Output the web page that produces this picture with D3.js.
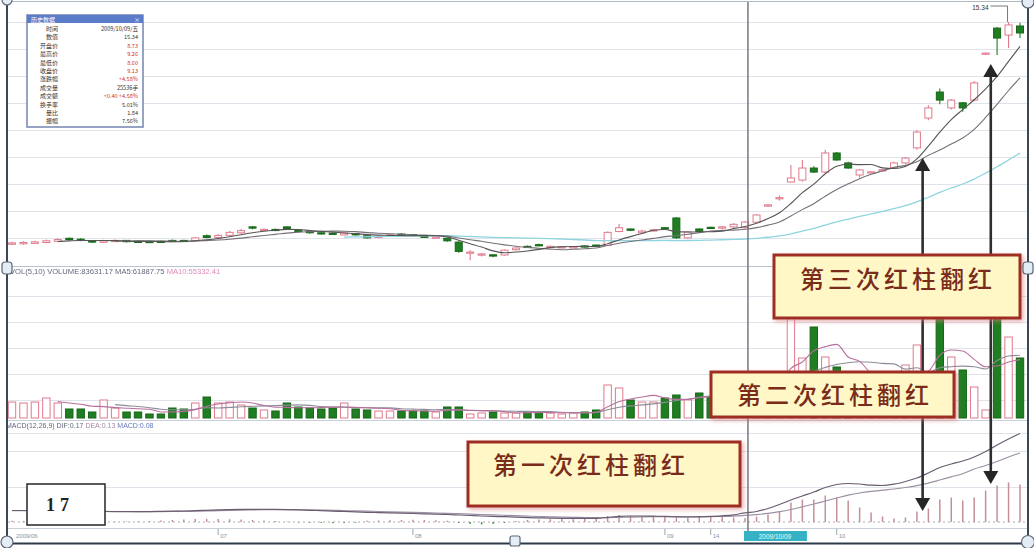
<!DOCTYPE html>
<html><head><meta charset="utf-8">
<script src="https://cdn.jsdelivr.net/npm/d3@7/dist/d3.min.js"></script>
<style>html,body{margin:0;padding:0;background:#fff;overflow:hidden}svg{display:block}</style>
</head><body>
<svg id="chart" width="1034" height="548" xmlns="http://www.w3.org/2000/svg"></svg>
<script>
// ---------------- DATA ----------------
const openP = [
 4.84,4.86,4.88,4.92,4.98,5.12,5.08,5.00,4.93,4.98,
 5.02,4.98,4.97,4.98,5.02,5.02,5.00,5.24,5.16,5.26,
 5.38,5.66,5.50,5.54,5.66,5.50,5.44,5.38,5.36,5.28,
 5.34,5.24,5.16,5.22,5.32,5.30,5.22,5.14,5.12,4.94,
 4.42,4.34,4.34,4.33,4.58,4.74,4.82,4.70,4.70,4.70,
 4.76,4.80,4.78,5.44,5.56,5.38,5.48,5.62,6.08,5.14,
 5.56,5.64,5.60,5.66,5.62,5.88,6.64,7.00,7.78,7.87,
 8.44,8.25,9.15,8.68,8.11,8.22,8.30,8.44,8.68,9.39,
 10.80,12.03,11.28,11.52,11.65,13.82,15.05,14.72,15.15];
const closeP = [
 4.90,4.92,4.95,5.00,5.06,5.06,5.02,4.94,5.00,5.02,
 4.96,4.95,4.95,4.96,4.98,5.00,5.14,5.16,5.26,5.40,
 5.48,5.60,5.54,5.50,5.58,5.44,5.38,5.34,5.32,5.38,
 5.28,5.14,5.22,5.28,5.30,5.26,5.18,5.18,5.00,4.50,
 4.47,4.38,4.28,4.56,4.66,4.70,4.78,4.74,4.72,4.72,
 4.72,4.76,5.40,5.62,5.50,5.46,5.52,5.56,5.14,5.42,
 5.44,5.60,5.66,5.78,5.89,6.22,6.70,7.04,7.97,8.44,
 8.25,9.15,8.82,8.44,8.35,8.26,8.36,8.68,8.91,10.14,
 11.28,11.65,11.65,11.28,12.46,13.87,14.58,15.20,14.82];
const highP = [
 4.96,4.98,5.00,5.06,5.12,5.16,5.12,5.04,5.05,5.06,
 5.04,5.02,5.00,5.02,5.06,5.05,5.18,5.30,5.32,5.46,
 5.56,5.70,5.58,5.58,5.68,5.54,5.46,5.40,5.38,5.42,
 5.36,5.26,5.26,5.32,5.36,5.32,5.24,5.20,5.16,4.98,
 4.56,4.42,4.36,4.60,4.70,4.78,4.86,4.78,4.76,4.75,
 4.78,4.82,5.44,5.80,5.58,5.52,5.56,5.64,6.12,5.46,
 5.58,5.66,5.70,5.84,5.94,6.26,6.74,7.14,8.58,8.82,
 8.52,9.30,9.20,8.74,8.38,8.30,8.40,8.74,8.96,10.24,
 11.40,12.20,11.70,11.56,12.55,13.90,15.10,15.34,15.30];
const lowP = [
 4.80,4.82,4.85,4.88,4.95,5.02,4.98,4.90,4.90,4.95,
 4.92,4.92,4.92,4.93,4.95,4.96,4.98,5.12,5.14,5.22,
 5.34,5.54,5.46,5.46,5.54,5.40,5.34,5.30,5.28,5.26,
 5.24,5.10,5.12,5.18,5.26,5.22,5.14,5.10,4.96,4.44,
 4.08,4.26,4.22,4.30,4.54,4.66,4.74,4.66,4.66,4.67,
 4.68,4.72,4.76,5.40,5.46,5.34,5.44,5.52,5.10,5.10,
 5.40,5.56,5.56,5.62,5.58,5.84,6.60,6.90,7.74,7.80,
 8.20,8.20,8.78,8.40,7.98,8.18,8.26,8.40,8.64,9.30,
 10.70,11.45,11.20,11.10,11.60,13.78,13.78,14.11,14.58];
const volume = [
 16,15,16,20,15,9,9,6,18,10,
 6,6,4,4,10,9,15,21,15,16,
 13,10,8,7,15,11,10,9,10,15,
 9,8,7,7,7,7,7,6,11,11,
 4,5,6,5,5,6,6,5,4,5,
 6,8,33,30,18,16,16,20,23,18,
 25,21,22,24,28,35,40,40,105,60,
 91,61,51,42,38,30,28,35,53,73,
 45,108,61,48,31,8,112,81,60];
const dif = [
 0.115,0.115,0.112,0.110,0.108,0.107,0.106,0.105,0.105,0.104,
 0.104,0.103,0.104,0.106,0.108,0.110,0.113,0.117,0.121,0.124,
 0.126,0.127,0.127,0.126,0.124,0.121,0.117,0.113,0.109,0.105,
 0.101,0.097,0.094,0.091,0.088,0.085,0.082,0.079,0.075,0.070,
 0.065,0.060,0.056,0.053,0.048,0.044,0.041,0.039,0.037,0.036,
 0.036,0.037,0.046,0.056,0.060,0.060,0.058,0.056,0.052,0.050,
 0.052,0.056,0.062,0.072,0.092,0.105,0.135,0.175,0.220,0.260,
 0.300,0.345,0.375,0.385,0.380,0.368,0.365,0.378,0.405,0.440,
 0.490,0.545,0.580,0.610,0.650,0.705,0.770,0.830,0.885];
const dea = [
 0.113,0.114,0.113,0.112,0.110,0.109,0.108,0.107,0.106,0.105,
 0.105,0.104,0.104,0.104,0.105,0.106,0.108,0.110,0.113,0.116,
 0.119,0.121,0.123,0.124,0.124,0.123,0.122,0.120,0.117,0.114,
 0.111,0.108,0.105,0.102,0.099,0.096,0.093,0.090,0.087,0.083,
 0.079,0.075,0.071,0.067,0.063,0.059,0.055,0.052,0.049,0.047,
 0.045,0.043,0.044,0.046,0.049,0.051,0.053,0.054,0.054,0.054,
 0.054,0.054,0.056,0.059,0.066,0.074,0.086,0.103,0.125,0.152,
 0.180,0.210,0.240,0.268,0.290,0.306,0.318,0.330,0.345,0.364,
 0.389,0.420,0.452,0.483,0.530,0.565,0.605,0.650,0.690];
const macdBar = [
 0.012,0.010,0.008,0.010,0.012,0.010,0.008,0.006,0.008,0.006,
 0.006,0.008,0.010,0.015,0.020,0.025,0.030,0.032,0.030,0.028,
 0.025,0.020,0.015,0.010,0.006,-0.004,-0.008,-0.010,-0.012,-0.010,
 -0.008,0.012,0.015,0.018,0.020,0.022,0.020,0.018,0.012,-0.010,
 -0.020,-0.025,-0.020,-0.010,0.010,0.020,0.025,0.028,0.030,0.028,
 0.030,0.032,0.060,0.070,0.065,0.060,0.055,0.050,0.040,0.045,
 0.050,0.055,0.050,0.045,0.040,0.055,0.075,0.105,0.195,0.225,
 0.225,0.265,0.245,0.215,0.145,0.095,0.055,0.035,0.045,0.105,
 0.135,0.225,0.245,0.215,0.245,0.315,0.365,0.395,0.375];
// unlabeled gridline values
const priceGrid = [5.13,6.41,7.69,8.96,10.24,11.51,12.79,14.06,15.34];
const volGrid = [18,44,70,96,122];
const macdGrid = [0.35,0.71,0.89];
// date axis
const dateTickIdx = [18,35,57,61,72];
const dateTickLab = ["07","08","09","14","10"];
const cursorIdx = 64.25;
const cursorDate = "2009/10/09";
// info window
const infoLabels = ["时间","数值","开盘价","最高价","最低价","收盘价","涨跌幅","成交量","成交额","换手率","量比","振幅"];
const infoValues = ["2009/10/09/五","15.34","8.73","9.26","8.60","9.13","+4.58%","25536手","+0.40 +4.58%","5.01%","1.84","7.56%"];
const infoRed = [false,false,true,true,true,true,true,false,true,false,false,false];
// legend strings
const volLegend = ["VOL(5,10) VOLUME:83631.17 MA5:61887.75 ", "MA10:55332.41"];
const macdLegend = ["MACD(12,26,9) DIF:0.17 ", "DEA:0.13 ", "MACD:0.08"];
const labelBox = "17";
const notes = ["第一次红柱翻红","第二次红柱翻红","第三次红柱翻红"];

// ---------------- DRAW ----------------
const svg = d3.select('#chart');
const defs = svg.append('defs');
const flt = defs.append('filter').attr('id','sh').attr('x','-10%').attr('y','-25%').attr('width','125%').attr('height','160%');
flt.append('feDropShadow').attr('dx',2).attr('dy',2).attr('stdDeviation',2).attr('flood-color','#d97a7a').attr('flood-opacity',0.6);

const N = closeP.length, idx = d3.range(N);
const x = d3.scaleLinear().domain([0,N-1]).range([12,1020]);
const yP = d3.scaleLinear().domain([4,16]).range([262,8]);
const yV = d3.scaleLinear().domain([0,100]).range([418,318]);
const yM = d3.scaleLinear().domain([0,0.95]).range([522,427]);

const PINK = '#e07a8c', GREEN = '#1f7d22', GREENS = '#176617';
const up = i => closeP[i] >= openP[i];

function grid(scale, vals){
  svg.append('g').attr('transform','translate(8,0)')
    .call(d3.axisLeft(scale).tickValues(vals).tickSize(-1019).tickFormat(''))
    .call(g=>g.select('.domain').remove())
    .call(g=>g.selectAll('line').attr('stroke','#e0e4ea').attr('shape-rendering','crispEdges'));
}
grid(yP, priceGrid); grid(yV, volGrid); grid(yM, macdGrid);

// panel separators
[[266,'#b8c2d0'],[420,'#c9d0da'],[528,'#c9d0da']].forEach(([yy,c])=>{
  svg.append('line').attr('x1',8).attr('x2',1028).attr('y1',yy).attr('y2',yy).attr('stroke',c).attr('shape-rendering','crispEdges');
});
svg.append('line').attr('x1',8).attr('x2',1028).attr('y1',1.5).attr('y2',1.5).attr('stroke','#b0b8c4');
// macd zero line
svg.append('line').attr('x1',8).attr('x2',1028).attr('y1',yM(0)).attr('y2',yM(0)).attr('stroke','#aaa').attr('stroke-dasharray','2,3');

// ---- candles ----
const gC = svg.append('g');
gC.selectAll('line').data(idx).join('line')
  .attr('x1',i=>x(i)).attr('x2',i=>x(i))
  .attr('y1',i=>yP(highP[i])).attr('y2',i=>yP(lowP[i]))
  .attr('stroke',i=>up(i)?PINK:GREEN).attr('stroke-width',1.1);
gC.selectAll('rect').data(idx).join('rect')
  .attr('x',i=>x(i)-3.5).attr('width',7)
  .attr('y',i=>yP(Math.max(openP[i],closeP[i])))
  .attr('height',i=>Math.max(1.2,Math.abs(yP(openP[i])-yP(closeP[i]))))
  .attr('fill',i=>up(i)?'#fff':GREEN)
  .attr('stroke',i=>up(i)?PINK:GREENS).attr('stroke-width',1);

function ma(arr,n){ return arr.map((v,i)=> i<n-1 ? null : d3.mean(arr.slice(i-n+1,i+1))); }
function drawLine(vals, yS, color, w){
  const ln = d3.line().defined(d=>d!=null).x((d,i)=>x(i)).y(d=>yS(d)).curve(d3.curveMonotoneX);
  svg.append('path').datum(vals).attr('d',ln).attr('fill','none').attr('stroke',color).attr('stroke-width',w||1.1);
}
drawLine(ma(closeP,30), yP, '#8fd4df', 1.3);
drawLine(ma(closeP,10), yP, '#777078', 1.1);
drawLine(ma(closeP,5), yP, '#555', 1.1);

// max price label
const mi = d3.maxIndex(highP);
svg.append('path').attr('d',`M${x(mi)-18},6 H${x(mi)-1} V${yP(highP[mi])}`).attr('fill','none').attr('stroke','#555').attr('stroke-width',0.8);
svg.append('text').attr('x',x(mi)-20).attr('y',9.5).attr('text-anchor','end').attr('font-size',6.5).attr('font-family','Liberation Sans, Arial').attr('fill','#333').text(highP[mi].toFixed(2));

// ---- volume ----
const gV = svg.append('g');
gV.selectAll('rect').data(idx).join('rect')
  .attr('x',i=>x(i)-3.7).attr('width',7.4)
  .attr('y',i=>yV(volume[i])).attr('height',i=>yV(0)-yV(volume[i]))
  .attr('fill',i=>up(i)?'#fff':GREEN)
  .attr('stroke',i=>up(i)?PINK:GREENS).attr('stroke-width',1);
drawLine(ma(volume,10), yV, '#8f8c9a', 1.1);
drawLine(ma(volume,5), yV, '#b86f9c', 1.1);

// ---- MACD ----
svg.append('g').selectAll('line').data(idx).join('line')
  .attr('x1',i=>x(i)).attr('x2',i=>x(i))
  .attr('y1',yM(0)).attr('y2',i=>yM(macdBar[i]))
  .attr('stroke',i=>macdBar[i]>=0?'#c58f97':'#4f9a4f').attr('stroke-width',1.5);
drawLine(dea, yM, '#9c90a4', 1.2);
drawLine(dif, yM, '#6a5d70', 1.2);

// ---- legends ----
function legend(parts, colors, xx, yy, fs){
  const t = svg.append('text').attr('x',xx).attr('y',yy).attr('font-size',fs).attr('font-family','Liberation Sans, Arial').attr('opacity',0.8);
  parts.forEach((p,k)=>t.append('tspan').attr('fill',colors[k]).text(p));
}
legend(volLegend, ['#39405a','#d66aa6'], 10, 274, 7.6);
legend(macdLegend, ['#39405a','#8a6a8a','#3a55a8'], 6, 428, 7);

// ---- date axis ----
svg.append('g').selectAll('line').data(dateTickIdx).join('line')
  .attr('x1',d=>x(d)).attr('x2',d=>x(d)).attr('y1',529).attr('y2',535).attr('stroke','#9aa');
svg.append('g').selectAll('text').data(dateTickIdx).join('text')
  .attr('x',d=>x(d)+2).attr('y',538).attr('font-size',6).attr('fill','#8a93a0').attr('font-family','Liberation Sans, Arial')
  .text((d,k)=>dateTickLab[k]);
svg.append('text').attr('x',16).attr('y',538).attr('font-size',6).attr('fill','#8a93a0').attr('font-family','Liberation Sans, Arial').text('2009/06');
svg.append('rect').attr('x',x(cursorIdx)-4).attr('y',531).attr('width',63).attr('height',10).attr('fill','#35b3c4');
svg.append('text').attr('x',x(cursorIdx)+27).attr('y',539).attr('text-anchor','middle').attr('font-size',6.5).attr('fill','#e8fbff').attr('font-family','Liberation Sans, Arial').text(cursorDate);

// ---- crosshair ----
svg.append('line').attr('x1',x(cursorIdx)).attr('x2',x(cursorIdx)).attr('y1',2).attr('y2',531).attr('stroke','#6d6d74').attr('stroke-width',1.4);

// ---- arrows ----
function arrow(xp, yTop, yBot){
  const g = svg.append('g').attr('fill','#262626');
  g.append('line').attr('x1',xp).attr('x2',xp).attr('y1',yTop+10).attr('y2',yBot-10).attr('stroke','#2e2e2e').attr('stroke-width',2.6);
  g.append('path').attr('d',`M${xp},${yTop} L${xp-7.5},${yTop+13} L${xp+7.5},${yTop+13} Z`);
  g.append('path').attr('d',`M${xp},${yBot} L${xp-7.5},${yBot-13} L${xp+7.5},${yBot-13} Z`);
}
arrow(x(79.5), 158, 511);
arrow(x(85.45), 64, 484);

// ---- annotation boxes ----
function note(bx, by, bw, bh, txt, tx, ty, anchor){
  const g = svg.append('g');
  g.append('rect').attr('x',bx).attr('y',by).attr('width',bw).attr('height',bh)
    .attr('fill','#fff7c6').attr('stroke','#9e2e22').attr('stroke-width',3).attr('filter','url(#sh)');
  g.append('text').attr('x',tx).attr('y',ty).attr('text-anchor',anchor).attr('dominant-baseline','central')
    .attr('font-family','Noto Sans CJK SC').attr('font-size',24).attr('font-weight',500).attr('letter-spacing',4)
    .attr('fill','#7a2c1a').text(txt);
}
note(468, 442, 272, 64, notes[0], 493, 463, 'start');
note(711, 372, 243, 45, notes[1], 835, 393, 'middle');
note(774, 255, 246, 63, notes[2], 898, 277, 'middle');

// ---- "17" box ----
svg.append('rect').attr('x',27).attr('y',484).attr('width',78).attr('height',41).attr('fill','#fff').attr('stroke','#333').attr('stroke-width',1.6);
svg.append('text').attr('x',46).attr('y',511).attr('font-family','Liberation Serif, DejaVu Serif').attr('font-weight','bold').attr('font-size',18).attr('letter-spacing',5).attr('fill','#222').text(labelBox);

// ---- info window ----
const gi = svg.append('g').attr('font-family','Noto Sans CJK SC');
gi.append('rect').attr('x',27).attr('y',15).attr('width',116).attr('height',112).attr('fill','#fff').attr('stroke','#7d8db5').attr('stroke-width',1.6);
gi.append('rect').attr('x',27).attr('y',15).attr('width',116).attr('height',8).attr('fill','#5a7cc9');
gi.append('text').attr('x',31).attr('y',21.5).attr('font-size',6).attr('fill','#fff').text('历史数据');
gi.append('text').attr('x',140).attr('y',21.5).attr('text-anchor','end').attr('font-size',6).attr('fill','#fff').text('×');
gi.selectAll('text.l').data(infoLabels).join('text').attr('class','l')
  .attr('x',58).attr('y',(d,k)=>31+k*8.4).attr('text-anchor','end').attr('font-size',6).attr('fill','#333').text(d=>d);
gi.selectAll('text.v').data(infoValues).join('text').attr('class','v')
  .attr('x',138).attr('y',(d,k)=>31+k*8.4).attr('text-anchor','end').attr('font-size',5.6)
  .attr('fill',(d,k)=>infoRed[k]?'#d0302a':'#333').text(d=>d);

// ---- frame ----
svg.append('line').attr('x1',7).attr('x2',7).attr('y1',0).attr('y2',545).attr('stroke','#3d4654').attr('stroke-width',2);
svg.append('line').attr('x1',1028).attr('x2',1028).attr('y1',0).attr('y2',545).attr('stroke','#3d4654').attr('stroke-width',2);
svg.append('line').attr('x1',7).attr('x2',1028).attr('y1',543.5).attr('y2',543.5).attr('stroke','#2f3a48').attr('stroke-width',2);
// handles
const hs = svg.append('g').attr('fill','#e4ecf5').attr('stroke','#5d6775').attr('stroke-width',1.2);
hs.append('rect').attr('x',2).attr('y',262).attr('width',10).attr('height',12).attr('rx',3);
hs.append('rect').attr('x',1023).attr('y',262).attr('width',10).attr('height',12).attr('rx',3);
hs.append('rect').attr('x',510).attr('y',536).attr('width',10).attr('height',10).attr('rx',2);
hs.append('circle').attr('cx',7).attr('cy',542).attr('r',6);
hs.append('circle').attr('cx',1028).attr('cy',542).attr('r',6.5);
hs.append('circle').attr('cx',1028).attr('cy',2).attr('r',6);
hs.append('circle').attr('cx',7).attr('cy',0).attr('r',5);
</script>
</body></html>
